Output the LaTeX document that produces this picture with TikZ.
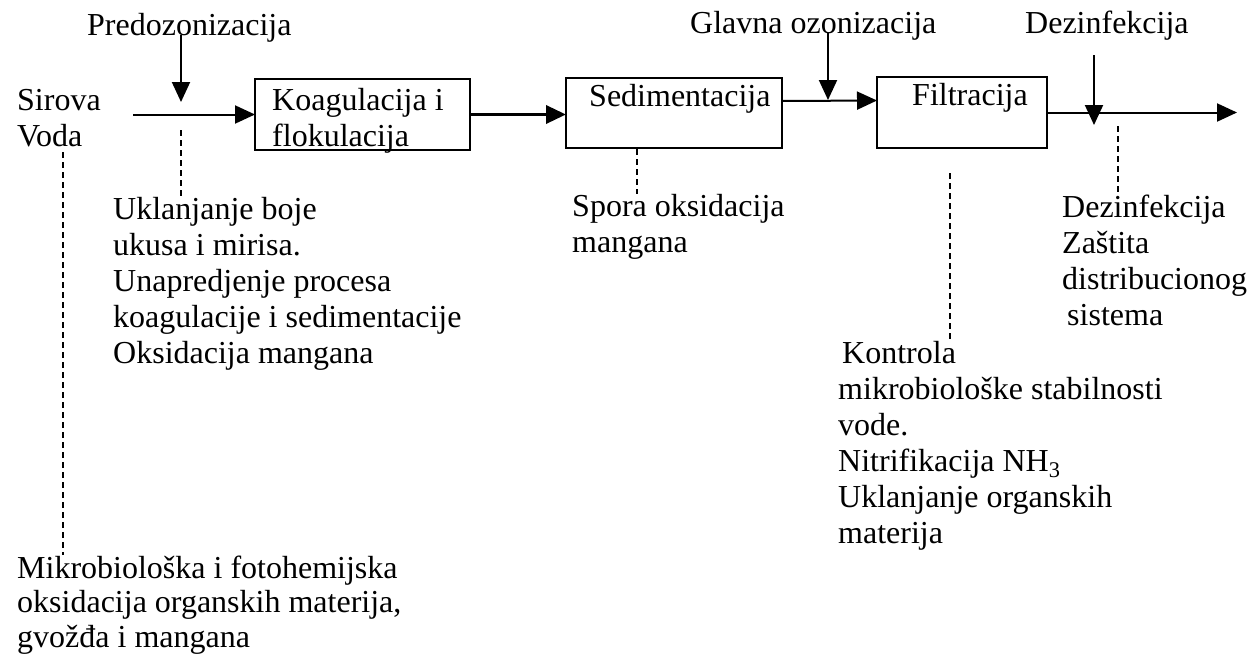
\documentclass[tikz,border=0pt]{standalone}
\usepackage{fontspec}
\setmainfont{Liberation Serif}
\usetikzlibrary{arrows.meta,calc}
\begin{document}
\begin{tikzpicture}[x=1pt,y=-1pt,
  txt/.style={font=\fontsize{32}{36}\selectfont, inner sep=0pt, anchor=base west, align=left},
  stage/.style={draw, line width=2pt, inner sep=0pt, outer sep=0pt},
  flow/.style={line width=2pt, -{Triangle[length=20pt,width=18pt]}},
  dashln/.style={line width=2pt, dash pattern=on 6pt off 4pt}]
\useasboundingbox (0,0) rectangle (1257,665);

% process stages (multi-line texts are placed by the baseline of their last line)
\node[stage, minimum width=215pt, minimum height=71pt] (koag) at (362.5,114.5) {};
\node[stage, minimum width=216pt, minimum height=70pt] (sed)  at (674,113) {};
\node[stage, minimum width=170pt, minimum height=71pt] (filt) at (962,112.5) {};
\node[txt] (koagt) at (272,146) {Koagulacija i\\flokulacija};
\node[txt] (sedt)  at (589,106) {Sedimentacija};
\node[txt] (filtt) at (912,105) {Filtracija};

% dosing points
\node[txt] (predo)  at (87,35)  {Predozonizacija};
\node[txt] (glavna) at (690,33) {Glavna ozonizacija};
\node[txt, inner ysep=15pt] (deztop) at (1025,33) {Dezinfekcija};

% inlet and notes
\node[txt] (sirova) at (17,146) {Sirova\\Voda};
\node[txt] (ukl)    at (113,363) {Uklanjanje boje\\ukusa i mirisa.\\Unapredjenje procesa\\koagulacije i sedimentacije\\Oksidacija mangana};
\node[txt] (spora)  at (572,252) {Spora oksidacija\\mangana};
\node[txt] (dezb)   at (1062,325) {Dezinfekcija\\Zaštita\\distribucionog\\\hspace{5pt}sistema};
\node[txt] (kontr)  at (838,543) {\hspace{4pt}Kontrola\\mikrobiološke stabilnosti\\vode.\\Nitrifikacija NH\textsubscript{3}\\Uklanjanje organskih\\materija};
\node[txt, font=\fontsize{32}{34.5}\selectfont] (mikro) at (17,647) {Mikrobiološka i fotohemijska\\oksidacija organskih materija,\\gvožđa i mangana};

% line ends and injection points
\coordinate (raw) at (133,114.5);
\coordinate (out) at (1237,112.5);
\coordinate (pz) at (181,102);
\coordinate (gz) at (828,100);
\coordinate (dz) at (1094,125);
\coordinate (d1) at (63,152);
\coordinate (d2) at (181,130);
\coordinate (d3) at (637,149);
\coordinate (d4) at (950,173);
\coordinate (d5) at (1118,126);

% main flow
\draw[flow] (raw) -- (koag.west);
\draw[flow, line width=3.5pt] (koag.east) -- (sed.west |- koag.east);
\draw[flow] ([yshift=12pt]sed.east) -- ([yshift=12pt]filt.west);
\draw[flow] (filt.east) -- (out);

% ozone and disinfectant dosing
\draw[flow] (predo.base -| pz) -- (pz);
\draw[flow] (glavna.base -| gz) -- (gz);
\draw[flow] (deztop.south -| dz) -- (dz);

% effect notes
\draw[dashln] (d1) -- (mikro.north -| d1);
\draw[dashln] (d2) -- (ukl.north -| d2);
\draw[dashln] (d3) -- (spora.north -| d3);
\draw[dashln] (d4) -- (kontr.north -| d4);
\draw[dashln] (d5) -- (dezb.north -| d5);
\end{tikzpicture}
\end{document}
